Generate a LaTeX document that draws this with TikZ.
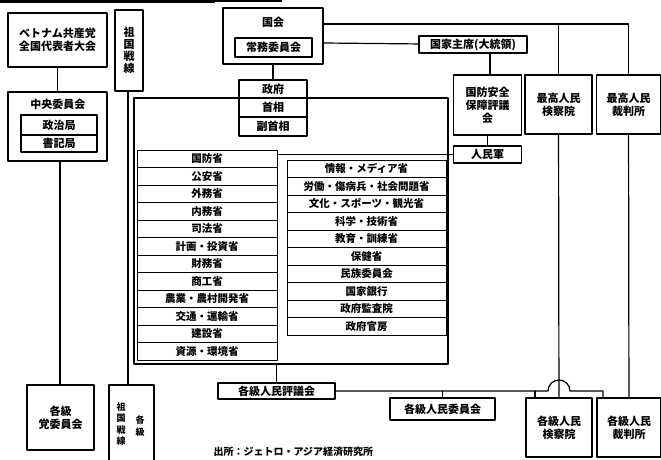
\documentclass[tikz,border=0pt]{standalone}
\usepackage{fontspec}
\newfontfamily\jpfont{Noto Sans CJK JP}
\usetikzlibrary{calc}
\tikzset{
  orgbox/.style={draw,fill=white,line width=1.2pt,align=center,inner sep=0pt,font=\jpfont\bfseries\fontsize{11}{13}\selectfont},
  minbox/.style={orgbox,line width=1pt,font=\jpfont\bfseries\fontsize{10.5}{12}\selectfont},
  plain/.style={align=center,inner sep=0pt,font=\jpfont\bfseries\fontsize{11}{12}\selectfont}
}

\begin{document}
\begin{tikzpicture}[x=1pt,y=-1pt,line cap=round,line join=round,line width=1.2pt]
  \useasboundingbox (0,0) rectangle (661,460);
  \fill (0,0) rectangle (215,3.5);
  \fill (215,0) rectangle (282,2);
  % party side
  \node[orgbox,minimum width=99,minimum height=54] (congress) at (57.5,40) {ベトナム共産党\\全国代表者大会};
  \node[orgbox,minimum width=99,minimum height=69] (cc) at (57.5,126.5) {};
  \node[plain] (ccname) at (58,104) {中央委員会};
  \node[orgbox,minimum width=76,minimum height=20] (politburo) at (59,125) {政治局};
  \node[orgbox,minimum width=76,minimum height=17] (secretariat) at (59,143.5) {書記局};
  \node[orgbox,minimum width=67,minimum height=65] (partylocal) at (60.5,417.5) {各級\\党委員会};
  \draw (congress) -- (cc);
  \draw (cc.south -| 60,0) -- (partylocal.north -| 60,0);
  % fatherland front
  \node[orgbox,minimum width=28,minimum height=81,font=\jpfont\bfseries\fontsize{11}{12}\selectfont] (front) at (129,50.5) {祖\\国\\戦\\線};
  \node[orgbox,minimum width=45,minimum height=77] (frontlocal) at (131.5,423.5) {};
  \node[plain,font=\jpfont\bfseries\fontsize{9}{11.5}\selectfont] (frontname) at (121,424) {祖\\国\\戦\\線};
  \node[plain,font=\jpfont\bfseries\fontsize{9}{11.5}\selectfont] (frontlevel) at (140,426) {各\\級};
  \draw (front.south -| 128,0) -- (frontlocal.north -| 128,0);
  % national assembly, government
  \node[draw,line width=1.4pt,minimum width=314,minimum height=266,inner sep=0pt] (govframe) at (291,231) {};
  \node[orgbox,minimum width=100,minimum height=56] (assembly) at (273,36) {};
  \node[plain] (asmname) at (273,22) {国会};
  \node[orgbox,minimum width=77,minimum height=19] (standing) at (273.5,47.5) {常務委員会};
  \node[orgbox,minimum width=68,minimum height=18] (gov) at (273,89) {政府};
  \node[orgbox,minimum width=68,minimum height=19] (pm) at (273,107.5) {首相};
  \node[orgbox,minimum width=68,minimum height=19] (dpm) at (273,126.5) {副首相};
  \draw (assembly) -- (gov);
  \foreach \name [count=\i] in {国防省,公安省,外務省,内務省,司法省,計画・投資省,財務省,商工省,農業・農村開発省,交通・運輸省,建設省,資源・環境省}
    \node[minbox,minimum width=140,minimum height=17.5] (lm\i) at (207,141.25+17.5*\i) {\name};
  \foreach \name [count=\i] in {情報・メディア省,労働・傷病兵・社会問題省,文化・スポーツ・観光省,科学・技術省,教育・訓練省,保健省,民族委員会,国家銀行,政府監査院,政府官房}
    \node[minbox,minimum width=159,minimum height=17.5] (rm\i) at (366.5,151.25+17.5*\i) {\name};
  % president, courts
  \node[orgbox,minimum width=108,minimum height=17] (president) at (473,44.5) {国家主席(大統領)};
  \node[orgbox,minimum width=68,minimum height=60] (defense) at (487.5,105) {国防安全\\保障評議\\会};
  \node[orgbox,minimum width=68,minimum height=17] (army) at (487.5,154.5) {人民軍};
  \node[orgbox,minimum width=67,minimum height=59] (procuracy) at (558.5,104.5) {最高人民\\検察院};
  \node[orgbox,minimum width=64,minimum height=59] (court) at (628.5,104.5) {最高人民\\裁判所};
  \draw (assembly.east |- 0,24) -| (court);
  \draw (procuracy) -- (procuracy.north |- 0,24);
  \draw (assembly.east |- 0,43) -- (president);
  \draw (defense.north -| 490,0) -- (president.south -| 490,0);
  \draw (defense) -- (army);
  \draw (army.west) -- (army.west -| lm1.east);
  % local level
  \node[orgbox,minimum width=117,minimum height=16] (council) at (276.5,391) {各級人民評議会};
  \node[orgbox,minimum width=105,minimum height=22] (committee) at (442.5,409) {各級人民委員会};
  \node[orgbox,minimum width=66,minimum height=59] (procuracylocal) at (559,427.5) {各級人民\\検察院};
  \node[orgbox,minimum width=64,minimum height=59] (courtlocal) at (629,427.5) {各級人民\\裁判所};
  \draw (council) -- (council.north |- govframe.south);
  \draw (procuracy) -- (procuracylocal);
  \draw (court) -- (courtlocal);
  \coordinate (hop) at (548,391);
  \draw (council.east) -- (hop) arc[start angle=180,end angle=360,radius=11] -- (603,391) -- (courtlocal.north -| 603,0);
  \draw (committee) -- (committee.north |- council.east);
  \draw (procuracylocal.north -| 535,0) -- (535,391);
  \node[plain,anchor=west,font=\jpfont\bfseries\fontsize{10}{11}\selectfont] (source) at (213,452) {出所：ジェトロ・アジア経済研究所};
\end{tikzpicture}
\end{document}
